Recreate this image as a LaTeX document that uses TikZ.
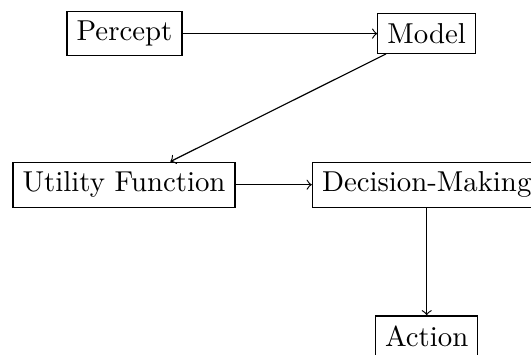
\documentclass[tikz,border=0pt]{standalone}
\begin{document}
\begin{tikzpicture}[x=0.3472pt,y=-0.3472pt,
  box/.style={draw, rectangle, inner sep=0.3333em},
  flow/.style={->}]
\clip (0,0) rectangle (531,354);
\useasboundingbox (0,0) rectangle (531,354);
\node[box] (percept) at (124.5,33.6) {Percept};
\node[box] (model) at (426.7,33.6) {Model};
\node[box] (utility) at (124,184.7) {Utility Function};
\node[box] (decision) at (426.7,184.7) {Decision-Making};
\node[box] (action) at (426.7,336) {Action};
\draw[flow] (percept) -- (model);
\draw[flow] (model) -- (utility);
\draw[flow] (utility) -- (decision);
\draw[flow] (decision) -- (action);
\end{tikzpicture}
\end{document}
